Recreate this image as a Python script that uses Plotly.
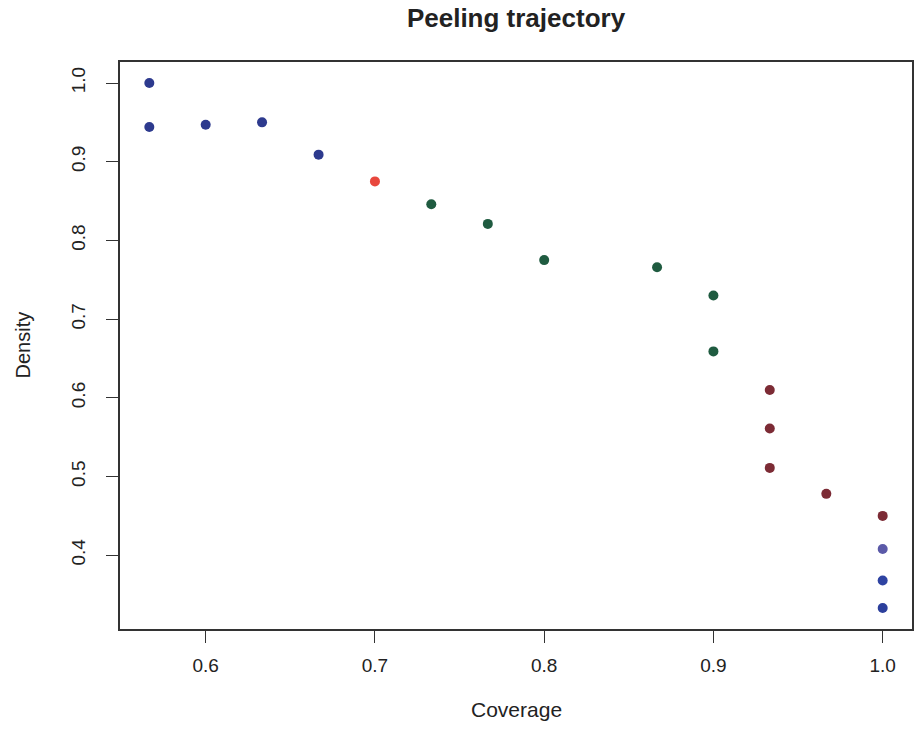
import plotly.graph_objects as go

# Peeling trajectory: coverage vs. density for each box in the sequence
coverage = [0.5667, 0.5667, 0.6, 0.6333, 0.6667, 0.7,
            0.7333, 0.7667, 0.8, 0.8667, 0.9, 0.9,
            0.9333, 0.9333, 0.9333, 0.9667, 1.0,
            1.0, 1.0, 1.0]
density = [1.0, 0.944, 0.947, 0.950, 0.909, 0.875,
           0.846, 0.821, 0.775, 0.766, 0.730, 0.659,
           0.610, 0.561, 0.511, 0.478, 0.450,
           0.408, 0.368, 0.333]
point_colors = ["#2d3a8e"] * 5 + ["#e8473d"] + ["#1f5b40"] * 6 + \
               ["#7c2b35"] * 5 + ["#5b5aa8", "#2e43a2", "#2c3f9c"]

x_ticks = [0.6, 0.7, 0.8, 0.9, 1.0]
y_ticks = [0.4, 0.5, 0.6, 0.7, 0.8, 0.9, 1.0]

# R-style 4% padding around the data range
def padded(vals, frac=0.04):
    lo, hi = min(vals), max(vals)
    d = (hi - lo) * frac
    return [lo - d, hi + d]

font_family = "Liberation Sans, Arial, sans-serif"
text_color = "#222222"

fig = go.Figure(go.Scatter(
    x=coverage, y=density, mode="markers",
    marker=dict(size=10, color=point_colors, line=dict(width=0)),
    hoverinfo="x+y",
))

axis_common = dict(
    showgrid=False, zeroline=False,
    showline=True, mirror=True, linecolor="#333333", linewidth=1.5,
    ticks="outside", ticklen=12, tickwidth=1.3, tickcolor="#333333",
    tickfont=dict(family=font_family, size=19, color=text_color),
)

fig.update_layout(
    width=916, height=729,
    margin=dict(l=120, r=2, t=62, b=100),
    paper_bgcolor="white", plot_bgcolor="white",
    showlegend=False,
    title=dict(
        text="<b>Peeling trajectory</b>",
        x=0.5, xref="paper", xanchor="center",
        y=1 - 18 / 729, yref="container", yanchor="middle",
        font=dict(family=font_family, size=26, color=text_color),
    ),
    xaxis=dict(range=padded(coverage), tickvals=x_ticks,
               ticktext=[f"{v:.1f}" for v in x_ticks],
               ticklabelstandoff=6, **axis_common),
    yaxis=dict(range=padded(density), tickvals=y_ticks,
               ticktext=[f"{v:.1f}" for v in y_ticks],
               tickangle=-90, ticklabelstandoff=14, **axis_common),
    annotations=[
        dict(text="Coverage", xref="paper", yref="paper", x=0.5, y=0,
             xanchor="center", yanchor="middle", yshift=-80, showarrow=False,
             font=dict(family=font_family, size=21, color=text_color)),
        dict(text="Density", xref="paper", yref="paper", x=0, y=0.5,
             xanchor="center", yanchor="middle", xshift=-98, textangle=-90,
             showarrow=False,
             font=dict(family=font_family, size=20, color=text_color)),
    ],
)

fig.write_html("out.html")
